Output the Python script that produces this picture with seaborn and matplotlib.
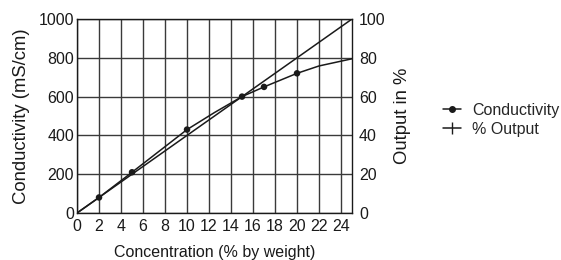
import matplotlib
matplotlib.use('Agg')
from matplotlib import pyplot as plt
from matplotlib.lines import Line2D
import seaborn as sns
import pandas

# conductivity readings (mS/cm) vs concentration (% by weight)
conc_points = [2, 5, 10, 15, 17, 20]
cond_points = [80, 210, 430, 600, 650, 720]

# fitted conductivity curve
conc_curve = [0, 2, 5, 10, 12.5, 15, 17, 20, 22, 25]
cond_curve = [0, 80, 210, 430, 518, 600, 650, 720, 758, 795]

# % output line
conc_output = [0, 25]
pct_output = [0, 100]

x_ticks = list(range(0, 25, 2))
cond_ticks = list(range(0, 1001, 200))
pct_ticks = list(range(0, 101, 20))


def main():
    sns.set_theme(style='white')
    plt.rcParams['font.family'] = ['Liberation Sans', 'DejaVu Sans']

    fig = plt.figure(figsize=(5.61, 2.6), dpi=100)
    ax = fig.add_axes([0.1373, 0.1808, 0.4902, 0.7461])

    curve = pandas.DataFrame({'conc': conc_curve, 'cond': cond_curve})
    points = pandas.DataFrame({'conc': conc_points, 'cond': cond_points})
    output = pandas.DataFrame({'conc': conc_output, 'pct': pct_output})

    sns.lineplot(data=curve, x='conc', y='cond', ax=ax, color='#1a1a1a',
                 linewidth=1.1, zorder=3)
    sns.scatterplot(data=points, x='conc', y='cond', ax=ax, color='#1a1a1a',
                    s=22, edgecolor='none', zorder=4)

    ax.set_xlim(0, 25)
    ax.set_ylim(0, 1000)
    ax.set_xticks(x_ticks)
    ax.set_yticks(cond_ticks)
    ax.grid(True, color='#3a3a3a', linewidth=1.0)
    ax.tick_params(axis='both', length=0, labelsize=11.5, colors='#1a1a1a')
    ax.tick_params(axis='x', pad=4)
    ax.tick_params(axis='y', pad=2)
    ax.set_xlabel('Concentration (% by weight)', fontsize=11.5, labelpad=8,
                  color='#1a1a1a')
    ax.set_ylabel('Conductivity (mS/cm)', fontsize=13.3, labelpad=6,
                  color='#1a1a1a')
    for sp in ax.spines.values():
        sp.set_color('#1a1a1a')
        sp.set_linewidth(1.0)

    ax2 = ax.twinx()
    sns.lineplot(data=output, x='conc', y='pct', ax=ax2, color='#1a1a1a',
                 linewidth=1.1)
    ax2.set_ylim(0, 100)
    ax2.set_yticks(pct_ticks)
    ax2.tick_params(axis='y', length=0, labelsize=11.5, pad=5,
                    colors='#1a1a1a')
    ax2.set_ylabel('Output in %', fontsize=13.3, labelpad=6, color='#1a1a1a')
    ax2.grid(False)
    for sp in ax2.spines.values():
        sp.set_visible(False)

    handles = [
        Line2D([], [], color='#1a1a1a', linewidth=1.1, marker='o',
               markersize=4),
        Line2D([], [], color='#1a1a1a', linewidth=1.1, marker='|',
               markersize=9),
    ]
    fig.legend(handles, ['Conductivity', '% Output'], loc='center left',
               bbox_to_anchor=(0.79, 0.54), frameon=False, fontsize=11.5,
               handlelength=1.1, handletextpad=0.7, labelspacing=0.25,
               borderpad=0, borderaxespad=0)

    fig.savefig('out.png', dpi=100)


if __name__ == '__main__':
    main()
